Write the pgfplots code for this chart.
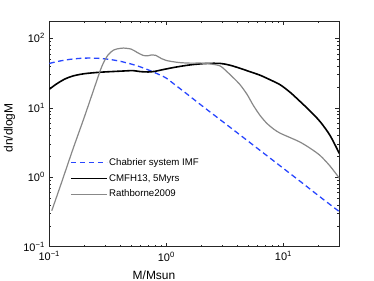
\documentclass[border=0pt]{standalone}
\usepackage{pgfplots}
\pgfplotsset{compat=1.18}
\usepackage{fontspec}
\setmainfont{Liberation Sans}
\definecolor{cblue}{RGB}{40,70,255}
\definecolor{cgray}{RGB}{136,136,136}
\pgfplotsset{
  legdash/.style={legend image code/.code={\draw[##1] (0bp,0bp) -- (36bp,0bp);}},
  legshort/.style={legend image code/.code={\path (0bp,0bp) -- (36bp,0bp); \draw[##1] (8bp,0bp) -- (36bp,0bp);}},
}
\begin{document}
\begin{tikzpicture}
\path[use as bounding box] (-49.3bp,-34.3bp) rectangle (324.7bp,246.7bp);
\begin{axis}[
  at={(0,0)}, anchor=south west,
  scale only axis, width=290bp, height=225.7bp,
  xmode=log, ymode=log,
  xmin=0.1, xmax=30, ymin=0.1, ymax=177.8,
  axis line style={line width=0.6bp, black!85},
  every tick/.style={black!85, line width=0.5bp},
  major tick length=4bp, minor tick length=2.2bp,
  tick align=inside,
  xtick={0.1,1,10},
  xticklabels={10\textsuperscript{−1},10\textsuperscript{0},10\textsuperscript{1}},
  minor xtick={0.2,0.3,0.4,0.5,0.6,0.7,0.8,0.9,2,3,4,5,6,7,8,9,20,30},
  ytick={0.1,1,10,100},
  yticklabels={10\textsuperscript{−1},10\textsuperscript{0},10\textsuperscript{1},10\textsuperscript{2}},
  minor ytick={0.2,0.3,0.4,0.5,0.6,0.7,0.8,0.9,2,3,4,5,6,7,8,9,20,30,40,50,60,70,80,90},
  tick label style={font=\fontsize{11}{12}\selectfont},
  xticklabel style={yshift=-1.5bp},
  yticklabel style={xshift=-1bp},
  xlabel={M/Msun},
  ylabel={dn/dlogM},
  label style={font=\fontsize{12}{14}\selectfont},
  xlabel style={at={(rel axis cs:0.361,0)}, anchor=north, inner sep=0pt, yshift=-23.5bp},
  ylabel style={at={(rel axis cs:0,0.526)}, anchor=south, inner sep=0pt, rotate=0, yshift=34bp},
  legend style={draw=none, fill=none, at={(rel axis cs:0.071,0.398)}, anchor=north west,
    font=\fontsize{9.7}{11}\selectfont, row sep=4.3bp, inner sep=0pt,
    nodes={inner sep=1.5bp}},
  legend cell align=left,
]
\addplot[cblue, line width=1.3bp, dash pattern=on 5.5bp off 3.5bp, smooth, legdash]
  coordinates {
  (0.1,43.5) (0.12,46.8) (0.15,49.8) (0.18,51.4) (0.22,52) (0.27,51.4)
  (0.33,49.6) (0.4,46.9) (0.5,42.7) (0.6,38.8) (0.7,35.2) (0.8,32.0)
  (0.9,29.2) (1.0,26.7) (1.2,21.1) (1.5,15.8) (2,10.8) (3,6.4) (5,3.3)
  (7,2.13) (10,1.34) (15,0.79) (20,0.54) (30,0.32)};
\addlegendentry{Chabrier system IMF}
\addplot[black, line width=1.6bp, smooth, legshort]
  coordinates {
  (0.1,18.5) (0.115,22) (0.136,26) (0.16,28.8) (0.2,31) (0.27,32.5)
  (0.35,33.3) (0.45,34) (0.52,34.3) (0.6,33.2) (0.7,32.8) (0.8,33.5)
  (0.9,35) (1.0,36.3) (1.2,38.5) (1.6,41.5) (2.2,43.5) (2.9,43.5)
  (3.5,41) (4.27,37) (5.2,33) (6.3,29.5) (7.7,25.3) (9.4,21.4)
  (11.5,16.5) (13.9,12.3) (17,8.9) (20.6,6.3) (25,4.0) (30,2.2)};
\addlegendentry{CMFH13, 5Myrs}
\addplot[cgray, line width=1.2bp, smooth, legshort]
  coordinates {
  (0.105,0.33) (0.126,0.8) (0.158,2.45) (0.2,7.5) (0.251,23) (0.282,40)
  (0.316,57) (0.355,68) (0.40,71.6) (0.43,72.5) (0.5,70) (0.56,63)
  (0.63,57) (0.69,56) (0.75,57.8) (0.81,57) (0.91,51) (1.0,48)
  (1.26,45) (1.58,44) (2.0,44) (2.4,42.7) (2.88,40) (3.3,33) (3.74,27)
  (4.27,21.4) (4.9,15.5) (5.5,11) (6.3,7.8) (7.2,6.0) (8.3,4.9) (9.4,4.3)
  (11.5,3.7) (13.9,3.2) (17,2.6) (20.6,2.05) (25,1.45) (30,0.97)};
\addlegendentry{Rathborne2009}
\end{axis}
\end{tikzpicture}
\end{document}
